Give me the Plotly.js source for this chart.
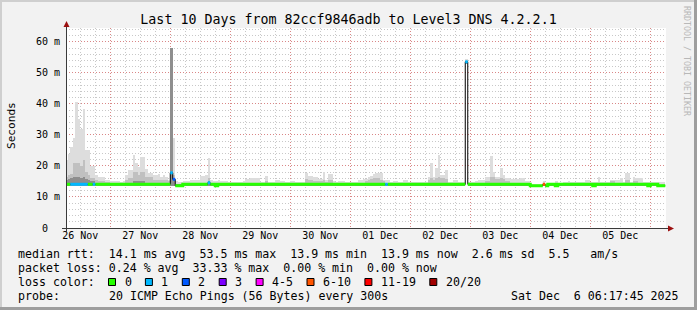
<!DOCTYPE html>
<html>
<head>
<meta charset="utf-8">
<script src="https://cdn.plot.ly/plotly-3.0.1.min.js"></script>
<style>
html,body{margin:0;padding:0;background:#f2f2f2;}
#chart{width:697px;height:310px;}
</style>
</head>
<body>
<div id="chart"></div>
<script>
// ---------------- data (hourly bins from 2025-11-26 06:00) ----------------
const firstBin = '2025-11-26T06:00:00Z';
const rangeStart = '2025-11-26 06:17:45';
const rangeEnd = '2025-12-06 06:17:45';

// median rtt per hour (ms)
const medianRtt = [
14.1,14.1,14.1,14.1,14.1,14.1,14.1,14.1,14.1,14.1,14.1,14.1,14.1,14.1,14.1,14.1,14.1,14.1,14.1,14.1,14.1,14.1,14.1,14.1,
14.1,14.1,14.1,14.1,14.1,14.1,14.1,14.1,14.1,14.1,14.1,14.1,14.1,14.1,14.1,14.1,14.1,14.1,17.8,15.7,13.6,13.6,13.6,14.1,
14.1,14.1,14.1,14.1,14.1,14.1,14.1,14.1,14.1,14.6,14.1,14.1,13.6,14.1,14.1,14.1,14.1,14.1,14.1,14.1,14.1,14.1,14.1,14.1,
14.1,14.1,14.1,14.1,14.1,14.1,14.1,14.1,14.1,14.1,14.1,14.1,14.1,14.1,14.1,14.1,14.1,14.1,14.1,14.1,14.1,14.1,14.1,14.1,
14.1,14.1,14.1,14.1,14.1,14.1,14.1,14.1,14.1,14.1,14.1,14.1,14.1,14.1,14.1,14.1,14.1,14.1,14.1,14.1,14.1,14.1,14.1,14.1,
14.1,14.1,14.1,14.1,14.1,14.1,14.1,14.1,14.1,14.1,14.1,14.1,14.1,14.1,14.1,14.1,14.1,14.1,14.1,14.1,14.1,14.1,14.1,14.1,
14.1,14.3,14.3,14.3,14.1,14.1,14.3,14.3,14.1,14.1,14.1,14.1,14.1,14.1,14.1,14.1,53.6,14.1,14.1,14.1,14.1,14.1,14.1,14.1,
14.1,14.1,14.2,14.2,14.2,14.2,14.2,14.2,14.1,14.1,14.1,14.1,14.1,14.1,14.1,14.1,14.1,14.1,13.6,13.6,13.6,13.6,13.6,14.1,
13.6,14.1,14.1,14.1,13.6,14.1,14.1,14.1,14.1,14.1,14.1,14.1,14.1,14.1,14.1,14.1,14.1,14.1,14.1,13.6,14.1,14.1,14.1,14.1,
14.1,14.1,14.1,14.1,14.1,14.1,14.1,14.1,14.1,14.1,14.1,14.1,14.1,14.1,14.1,14.1,14.1,13.6,14.1,14.1,14.1,13.6,13.6,13.6
];

// loss colour bucket per hour (index into lossLabels)
const lossBucket = [
0,0,1,1,1,1,1,1,1,0,0,1,0,0,0,0,0,0,0,0,0,0,0,0,
0,0,0,0,0,0,0,0,0,0,0,0,0,0,0,0,0,0,1,2,0,0,0,0,
0,0,0,0,0,0,0,0,0,1,0,0,0,0,0,0,0,0,0,0,0,0,0,0,
0,0,0,0,0,0,0,0,0,0,0,0,0,0,0,0,0,0,0,0,0,0,0,0,
0,0,0,0,0,0,0,0,0,0,0,0,0,0,0,0,0,0,0,0,0,0,0,0,
0,0,0,0,0,0,0,0,1,0,0,0,0,0,0,0,0,0,0,0,0,0,0,0,
0,0,0,0,0,0,0,0,0,0,0,0,0,0,0,0,1,0,0,0,0,0,0,0,
0,0,0,0,0,0,0,0,0,0,0,0,0,0,0,0,0,0,0,0,0,0,0,5,
0,0,0,0,0,0,0,0,0,0,0,0,0,0,0,0,0,0,0,0,0,0,0,0,
0,0,0,0,0,0,0,0,0,0,0,0,0,0,0,0,0,0,0,0,0,0,0,0
];

// smoke: lowest ping, upper edges of dense core, middle and outer smoke (ms)
const smokeMin = [
13.6,13.6,13.6,13.6,13.6,13.6,13.6,13.6,13.6,13.6,13.6,13.6,13.6,13.6,13.6,13.6,13.6,13.6,13.6,13.6,13.6,13.6,13.6,13.6,
13.6,13.6,13.6,13.6,13.6,13.6,13.6,13.6,13.6,13.6,13.6,13.6,13.6,13.6,13.6,13.6,13.6,13.6,13.6,13.6,13.6,13.6,13.6,13.6,
13.6,13.6,13.6,13.6,13.6,13.6,13.6,13.6,13.6,13.6,13.6,13.6,13.6,13.6,13.6,13.6,13.6,13.6,13.6,13.6,13.6,13.6,13.6,13.6,
13.6,13.6,13.6,13.6,13.6,13.6,13.6,13.6,13.6,13.6,13.6,13.6,13.6,13.6,13.6,13.6,13.6,13.6,13.6,13.6,13.6,13.6,13.6,13.6,
13.6,13.6,13.6,13.6,13.6,13.6,13.6,13.6,13.6,13.6,13.6,13.6,13.6,13.6,13.6,13.6,13.6,13.6,13.6,13.6,13.6,13.6,13.6,13.6,
13.6,13.6,13.6,13.6,13.6,13.6,13.6,13.6,13.6,13.6,13.6,13.6,13.6,13.6,13.6,13.6,13.6,13.6,13.6,13.6,13.6,13.6,13.6,13.6,
13.6,13.6,13.6,13.6,13.6,13.6,13.6,13.6,13.6,13.6,13.6,13.6,13.6,13.6,13.6,13.6,53.0,13.6,13.6,13.6,13.6,13.6,13.6,13.6,
13.6,13.6,13.6,13.6,13.6,13.6,13.6,13.6,13.6,13.6,13.6,13.6,13.6,13.6,13.6,13.6,13.6,13.6,13.6,13.6,13.6,13.6,13.6,13.6,
13.6,13.6,13.6,13.6,13.6,13.6,13.6,13.6,13.6,13.6,13.6,13.6,13.6,13.6,13.6,13.6,13.6,13.6,13.6,13.6,13.6,13.6,13.6,13.6,
13.6,13.6,13.6,13.6,13.6,13.6,13.6,13.6,13.6,13.6,13.6,13.6,13.6,13.6,13.6,13.6,13.6,13.6,13.6,13.6,13.6,13.6,13.6,13.6
];
const smokeCore = [
15.5,15.8,16,16.5,16.5,16.5,16,16.5,15.8,15.5,15,15,14.1,14.1,14.1,14.1,14.1,14.1,14.1,14.1,14.1,14.1,14.1,14.1,
14.1,14.1,14.1,15.2,15.2,15.2,15.2,15.2,14.1,14.1,14.1,14.1,14.1,14.1,14.1,14.1,14.1,14.1,58,15.5,14.1,14.1,14.1,14.1,
14.1,14.1,14.1,14.1,14.1,14.1,14.1,14.1,14.1,15,14.1,14.1,14.1,14.1,14.1,14.1,14.1,14.1,14.1,14.1,14.1,14.1,14.1,14.1,
14.1,14.1,14.1,14.1,14.1,14.1,14.1,14.1,14.1,14.1,14.1,14.1,14.1,14.1,14.1,14.1,14.1,14.1,14.1,14.1,14.1,14.1,14.1,14.1,
14.1,14.1,14.1,14.1,14.1,14.1,14.1,14.1,14.1,14.1,14.1,14.1,14.1,14.1,14.1,14.1,14.1,14.1,14.1,14.1,14.1,14.1,14.1,14.1,
14.1,14.1,14.1,14.1,14.1,14.1,14.1,14.1,14.1,14.1,14.1,14.1,14.1,14.1,14.1,14.1,14.1,14.1,14.1,14.1,14.1,14.1,14.1,14.1,
14.1,14.1,14.1,14.1,14.1,14.1,14.1,14.1,14.1,14.1,14.1,14.1,14.1,14.1,14.1,14.1,53.6,14.1,14.1,14.1,14.1,14.1,14.1,14.1,
14.1,14.1,14.1,14.1,14.1,14.1,14.1,14.1,14.1,14.1,14.1,14.1,14.1,14.1,14.1,14.1,14.1,14.1,14.0,14.0,14.0,14.0,14.0,14.1,
14.0,14.1,14.1,14.1,14.0,14.1,14.1,14.1,14.1,14.1,14.1,14.1,14.1,14.1,14.1,14.1,14.1,14.1,14.1,14.0,14.1,14.1,14.1,14.1,
14.1,14.1,14.1,14.1,14.1,14.1,14.1,14.1,14.1,14.1,14.1,14.1,14.1,14.1,14.1,14.1,14.1,14.0,14.1,14.1,14.1,14.0,14.0,14.0
];
const smokeMid = [
16.5,17,17.5,21,21,21,20,22,18,17,16,16,15.5,15.2,15.2,15.2,14.8,14.8,14.6,14.6,14.6,14.6,14.6,14.6,
15.5,16,16,18,18,17,18,18,16.5,16.5,16.5,15.5,15.5,15.5,15.5,15.5,15.5,15,58,17,14.1,14.1,14.1,14.6,
14.6,14.6,14.6,14.6,14.6,14.6,14.6,14.6,14.6,16,14.6,14.6,14.1,14.6,14.6,14.6,14.6,14.6,14.6,14.6,14.6,14.6,14.6,14.6,
14.6,14.6,14.6,14.6,14.6,14.6,14.6,14.6,15.2,14.6,14.6,14.6,14.6,14.6,14.6,14.6,14.6,14.6,14.6,14.6,14.6,14.6,14.6,14.6,
15.8,15.5,15.5,15.3,15.3,15,15,15.5,14.8,15.5,15.5,14.6,14.6,14.6,14.6,14.6,14.6,14.6,14.6,14.6,14.6,14.6,14.6,14.6,
15.2,15.5,15.8,16,16,16,15.5,15,14.6,14.6,14.6,14.6,14.6,14.6,14.6,14.6,14.6,14.6,14.6,14.6,14.6,14.6,14.6,14.6,
14.6,15.5,16,15.5,16,16.5,16,16,15.8,14.6,14.6,14.6,14.6,14.6,14.6,14.6,53.9,14.6,14.6,14.6,14.6,14.6,14.6,14.6,
15.2,15.2,16.5,16.5,15.8,15.8,16,15.8,15.3,15.3,14.6,14.6,14.6,14.6,14.6,14.6,14.6,14.6,14.0,14.0,14.0,14.0,14.0,14.6,
14.0,14.6,14.6,14.6,14.1,14.6,14.6,14.6,14.6,14.6,14.6,14.6,14.6,14.6,14.6,14.6,14.6,14.6,14.6,14.1,14.6,14.6,14.6,14.6,
14.6,14.6,15,15,14.6,14.6,14.6,14.6,15.5,15.5,14.6,15.2,15.2,14.6,14.6,14.6,14.6,14.1,14.6,14.6,14.6,14.1,14.1,14.1
];
const smokeMax = [
22,24,26,29,40.5,35,32,38.5,25,25,20,20,17,16.5,16.5,16.5,15.5,15.5,15,15,15.2,15,14.8,15.2,
17,18.7,18.7,23.5,21,19.8,23,23,19,17.7,17.7,17,17,17.5,16.5,17,16.5,15.5,58,29,15.3,14.8,14.8,15,
15,15.2,15.5,15.5,15.5,15.5,16.8,16.8,17,22.5,15.5,15,15,15.5,15,15.3,15.3,14.8,14.8,14.9,14.9,14.7,14.7,15.1,
15.8,15.8,16,16,16,16,14.8,14.8,16.9,14.8,14.8,14.9,15.5,15.5,15.3,15.3,14.8,14.8,15.1,15.1,14.8,14.7,14.7,14.8,
17.6,16.7,16.7,16.3,16.3,15.8,15.8,18.2,15.5,17.4,17.4,15.3,14.8,15.3,15.3,15.3,14.8,14.8,14.7,14.7,14.8,15.5,15.5,15.8,
15.8,16.5,16.8,17.3,17.9,17.9,17.9,15.6,15.5,15.5,14.8,15.2,15.2,14.8,14.8,15.5,15.5,14.8,14.8,14.9,14.8,14.8,14.9,14.8,
14.8,16.5,21,16.5,19.2,23.5,17.2,17.2,18.7,14.9,14.9,15.5,15.5,14.8,14.8,14.8,54.5,14.9,14.9,14.9,15.2,15.5,15.5,15.5,
16.5,16.5,23.2,18.2,16.5,16.5,19.2,17.2,16,16,15.7,15.7,15.7,15.8,16,16,15,15,14.1,14.1,14.1,14.1,14.1,15.3,
14.1,14.6,14.6,14.6,15,14.6,14.6,14.9,14.9,15.3,14.8,14.8,14.8,14.8,14.9,14.9,15.5,15.5,14.9,14.7,14.7,16.5,14.9,14.9,
14.7,14.7,15.5,15.5,15.5,15.5,16,14.9,17.6,17.6,14.9,16.5,16,16,16,14.9,14.7,14.7,14.9,14.9,14.7,14.7,14.9,14.9
];

// axis ticks
const dayLabels = ['26 Nov','27 Nov','28 Nov','29 Nov','30 Nov','01 Dec','02 Dec','03 Dec','04 Dec','05 Dec'];
const dayLabelTimes = ['2025-11-26 12:00','2025-11-27 12:00','2025-11-28 12:00','2025-11-29 12:00','2025-11-30 12:00',
  '2025-12-01 12:00','2025-12-02 12:00','2025-12-03 12:00','2025-12-04 12:00','2025-12-05 12:00'];
const midnightTimes = ['2025-11-27','2025-11-28','2025-11-29','2025-11-30','2025-12-01',
  '2025-12-02','2025-12-03','2025-12-04','2025-12-05','2025-12-06'];
const yTickVals = [0,10,20,30,40,50,60];
const yTickText = ['0\u00a0\u00a0','10 m','20 m','30 m','40 m','50 m','60 m'];

// legend
const lossLabels = ['0','1','2','3','4-5','6-10','11-19','20/20'];
const lossColors = ['#26ff00','#00b8ff','#0059ff','#7e00ff','#ff00ff','#ff5500','#ff0000','#a10000'];
const rttStatNames = ['avg','max','min','now'];
const rttStatValues = [14.1,53.5,13.9,13.9];
const rttSd = [2.6];
const rttAmS = [5.5];
const lossStatValues = [0.24,33.33,0.00,0.00];
const probeText = ['20 ICMP Echo Pings (56 Bytes) every 300s'];
const stampText = ['Sat Dec\u00a0 6 06:17:45 2025'];
const titleText = 'Last 10 Days from 82ccf9846adb to Level3 DNS 4.2.2.1';

// ---------------- build ----------------
const HOUR = 3600000;
const t0 = Date.parse(firstBin);
const binStart = medianRtt.map((_, i) => t0 + i * HOUR);
const binMid = binStart.map(t => t + HOUR / 2);

function segments(test) {
  const xs = [], ys = [];
  let prev = false;
  for (let i = 0; i < medianRtt.length; i++) {
    if (test(i)) {
      if (!prev && xs.length) { xs.push(null); ys.push(null); }
      xs.push(binStart[i], binStart[i] + HOUR);
      ys.push(medianRtt[i], medianRtt[i]);
      prev = true;
    } else prev = false;
  }
  return {xs, ys};
}

function smokeBar(top, color) {
  return {type:'bar', x:binMid, base:smokeMin, y:top.map((v,i)=>v-smokeMin[i]), width:HOUR,
    marker:{color:color, line:{width:0}}, hoverinfo:'skip', xaxis:'x', yaxis:'y'};
}

const traces = [
  smokeBar(smokeMax, '#dddddd'),
  smokeBar(smokeMid, '#c0c0c0'),
  smokeBar(smokeCore, '#8e8e8e')
];
const all = segments(() => true);
traces.push({type:'scatter', mode:'lines', x:all.xs, y:all.ys, line:{color:'#000', width:1},
  hoverinfo:'skip', xaxis:'x2', yaxis:'y', connectgaps:false});
lossColors.forEach((c, k) => {
  const s = segments(i => lossBucket[i] === k);
  if (!s.xs.length) return;
  traces.push({type:'scatter', mode:'lines', x:s.xs, y:s.ys, line:{color:c, width:3},
    hoverinfo:'skip', xaxis:'x2', yaxis:'y', connectgaps:false});
});

// pixel helpers (plot area 66..666 x, 28..228 y)
const L = 66, T = 28, W = 600, H = 200;
const px = v => (v - L) / W;
const py = v => (T + H - v) / H;

const mono = 'DejaVu Sans Mono';
const legFont = {family:mono, size:11.6, color:'#000'};
const nb = s => s.replace(/ /g, '\u00a0');

const row1 = 'median rtt:  ' + rttStatValues.map((v,i)=>v.toFixed(1)+' ms '+rttStatNames[i]).join('  ') +
  '  ' + rttSd[0].toFixed(1) + ' ms sd  ' + rttAmS[0].toFixed(1) + '   am/s';
const row2 = 'packet loss: ' + lossStatValues.map((v,i)=>v.toFixed(2)+' % '+rttStatNames[i]).join('  ');

const annotations = [
  {text:nb(row1), x:px(16), y:py(254), xref:'paper', yref:'paper', xanchor:'left', yanchor:'middle', showarrow:false, font:legFont},
  {text:nb(row2), x:px(16), y:py(268), xref:'paper', yref:'paper', xanchor:'left', yanchor:'middle', showarrow:false, font:legFont},
  {text:nb('loss color:'), x:px(16), y:py(282), xref:'paper', yref:'paper', xanchor:'left', yanchor:'middle', showarrow:false, font:legFont},
  {text:nb('probe:'), x:px(16), y:py(296), xref:'paper', yref:'paper', xanchor:'left', yanchor:'middle', showarrow:false, font:legFont},
  {text:nb(probeText[0]), x:px(107), y:py(296), xref:'paper', yref:'paper', xanchor:'left', yanchor:'middle', showarrow:false, font:legFont},
  {text:stampText[0], x:px(681), y:py(296), xref:'paper', yref:'paper', xanchor:'right', yanchor:'middle', showarrow:false, font:legFont},
  {text:'RRDTOOL / TOBI OETIKER', x:px(687), y:py(61), xref:'paper', yref:'paper', xanchor:'center', yanchor:'middle',
    textangle:90, showarrow:false, font:{family:mono, size:8.3, color:'#b8b8b8'}},
  {text:'Seconds', x:px(11), y:py(126), xref:'paper', yref:'paper', xanchor:'center', yanchor:'middle',
    textangle:-90, showarrow:false, font:{family:mono, size:11.1, color:'#000'}}
];

const shapes = [];
// loss colour boxes
let bx = 108.5;
lossLabels.forEach((lab, k) => {
  shapes.push({type:'rect', xref:'paper', yref:'paper', x0:px(bx), x1:px(bx+7), y0:py(285.5), y1:py(278.5),
    fillcolor:lossColors[k], line:{color:'#000', width:1}});
  annotations.push({text:lab, x:px(bx+14), y:py(282), xref:'paper', yref:'paper', xanchor:'left', yanchor:'middle',
    showarrow:false, font:legFont});
  bx = bx + 14 + 7 * lab.length + 15.9;
});
// axes with extensions and arrows
shapes.push({type:'line', xref:'paper', yref:'paper', x0:px(62), x1:px(669), y0:py(228.5), y1:py(228.5), line:{color:'#3a3a3a', width:1}});
shapes.push({type:'line', xref:'paper', yref:'paper', x0:px(66.5), x1:px(66.5), y0:py(232), y1:py(25), line:{color:'#3a3a3a', width:1}});
shapes.push({type:'path', xref:'paper', yref:'paper', fillcolor:'#9c1010', line:{width:0},
  path:`M${px(63.5)},${py(27)} L${px(69.5)},${py(27)} L${px(66.5)},${py(21)} Z`});
shapes.push({type:'path', xref:'paper', yref:'paper', fillcolor:'#9c1010', line:{width:0},
  path:`M${px(668)},${py(225.5)} L${px(668)},${py(231.5)} L${px(674)},${py(228.5)} Z`});
// 3D frame
shapes.push({type:'rect', xref:'paper', yref:'paper', x0:px(0), x1:px(697), y0:py(0), y1:py(2), fillcolor:'#cfcfcf', line:{width:0}});
shapes.push({type:'rect', xref:'paper', yref:'paper', x0:px(0), x1:px(2), y0:py(0), y1:py(310), fillcolor:'#cfcfcf', line:{width:0}});
shapes.push({type:'rect', xref:'paper', yref:'paper', x0:px(0), x1:px(697), y0:py(307), y1:py(310), fillcolor:'#9e9e9e', line:{width:0}});
shapes.push({type:'rect', xref:'paper', yref:'paper', x0:px(694), x1:px(697), y0:py(0), y1:py(310), fillcolor:'#9e9e9e', line:{width:0}});

const redGrid = 'rgba(255,0,0,0.32)';
const greyGrid = 'rgba(110,110,110,0.38)';
const gridDash = '1px,2px';

const layout = {
  width:697, height:310,
  margin:{l:L, r:697-L-W, t:T, b:310-T-H, pad:0},
  paper_bgcolor:'#f2f2f2', plot_bgcolor:'#ffffff',
  showlegend:false, barmode:'overlay', bargap:0,
  font:{family:mono, color:'#000'},
  title:{text:titleText, font:{family:mono, size:13.3, color:'#000'}, x:0.5, xref:'container', xanchor:'center',
    y:1-19/310, yref:'container', yanchor:'middle'},
  xaxis:{type:'date', range:[rangeStart, rangeEnd], tickmode:'array', tickvals:midnightTimes, showticklabels:false,
    showgrid:true, gridcolor:redGrid, griddash:gridDash, gridwidth:1, zeroline:false, showline:false, ticks:'',
    minor:{dtick:6*HOUR, tick0:'2025-11-26 00:00', showgrid:true, gridcolor:greyGrid, griddash:gridDash, gridwidth:1, ticks:''},
    fixedrange:true},
  xaxis2:{type:'date', overlaying:'x', matches:'x', anchor:'y', side:'bottom', tickmode:'array', tickvals:dayLabelTimes,
    ticktext:dayLabels, showgrid:false, zeroline:false, showline:false, ticks:'',
    tickfont:{family:mono, size:10, color:'#000'}, fixedrange:true},
  yaxis:{range:[0,64.5], tickmode:'array', tickvals:yTickVals, ticktext:yTickText, showgrid:true, gridcolor:redGrid,
    griddash:gridDash, gridwidth:1, zeroline:false, showline:false, ticks:'', ticklabelstandoff:5,
    tickfont:{family:mono, size:10, color:'#000'},
    minor:{dtick:2, tick0:0, showgrid:true, gridcolor:greyGrid, griddash:gridDash, gridwidth:1, ticks:''},
    fixedrange:true},
  annotations, shapes
};

Plotly.newPlot('chart', traces, layout, {staticPlot:true, displayModeBar:false});
</script>
</body>
</html>
